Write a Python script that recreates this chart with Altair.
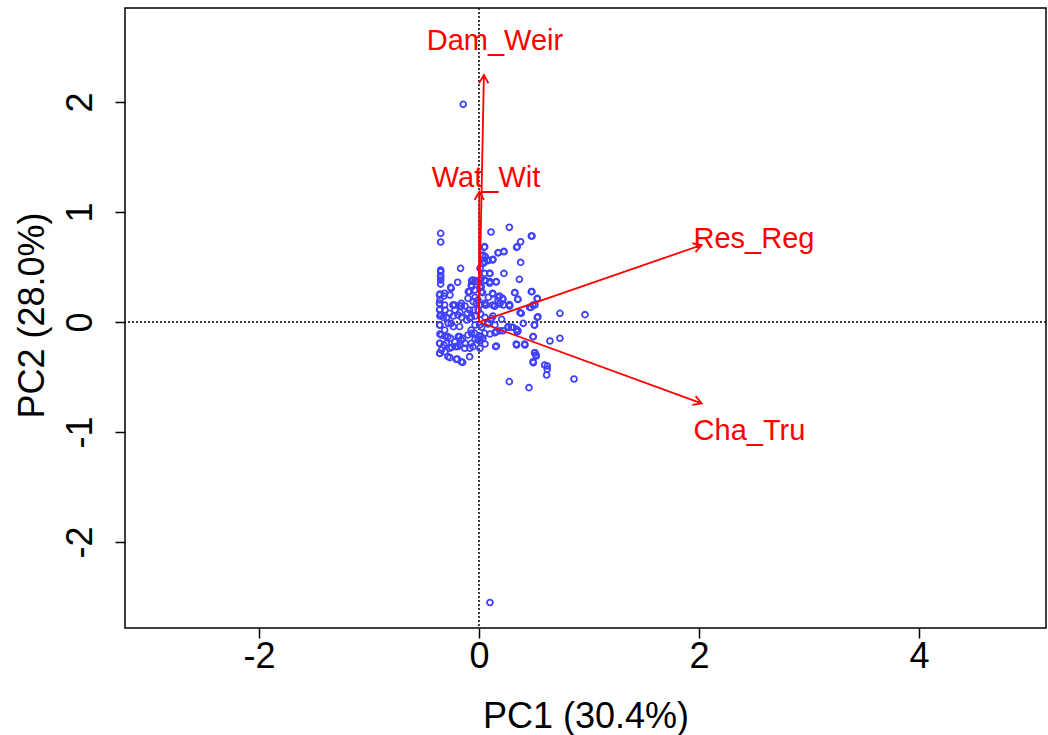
import math
import altair as alt
import pandas as pd

# ---- scores (PC1, PC2) ----
pc1 = [
    -0.348, -0.348, 0.276, 0.109, 0.482, 0.379, 0.342, 0.048, 0.227, 0.176, 0.033, 0.124, 0.085, 0.039, 0.379,
    -0.348, -0.348, -0.348, -0.348, -0.167, 0.009, 0.100, 0.227, 0.367, -0.194, -0.067, -0.036, 0.009, 0.055,
    0.100, 0.155, -0.067, 0.009, -0.258, -0.097, 0.033, 0.124, 0.327, 0.482, -0.355, -0.318, -0.264, -0.036,
    0.085, 0.176, 0.215, 0.352, 0.530, -0.355, -0.233, -0.173, -0.127, -0.052, 0.055, 0.124, 0.191, 0.221,
    0.276, 0.473, 0.509, -0.355, -0.309, -0.218, -0.173, -0.052, -0.006, 0.015, 0.373, 0.736, 0.964, -0.355,
    -0.324, -0.294, -0.233, -0.158, -0.082, -0.036, 0.055, 0.115, 0.206, 0.530, -0.355, -0.279, -0.233,
    -0.112, -0.036, 0.024, 0.085, 0.145, 0.267, 0.306, 0.342, 0.403, 0.503, -0.355, -0.309, -0.258, -0.188,
    -0.148, -0.067, 0.003, 0.100, 0.145, 0.191, 0.348, 0.494, 0.736, 0.645, -0.355, -0.318, -0.248, -0.209,
    -0.173, -0.127, -0.036, 0.009, 0.055, 0.152, 0.342, 0.418, -0.355, -0.309, -0.264, -0.197, -0.148,
    -0.082, 0.009, 0.509, 0.518, 0.494, 0.621, 0.621, 0.615, 0.864, 0.276, 0.455,
    -0.143, 0.100,
    -0.358, -0.358, -0.236, -0.161, -0.085, -0.024, -0.342, -0.267, -0.191, -0.106, -0.070, -0.358, -0.312,
    -0.252, -0.176, -0.070, 0.006, -0.342, -0.282, -0.176, -0.100, -0.039, 0.036, -0.358, -0.297, -0.221,
    -0.161, -0.070, -0.009, -0.342, -0.267, -0.191, -0.130, -0.055, -0.358, -0.282, -0.206, -0.161, -0.085,
    -0.348, -0.348, -0.055, -0.070, -0.024, 0.021, 0.052, 0.036, 0.058, -0.252, -0.312, -0.358, -0.085,
    -0.039, 0.021, -0.100, -0.009, -0.358, -0.312, -0.221, -0.161, 0.006,
    0.476, 0.348, 0.052, 0.036, 0.052, 0.082, 0.127, 0.173, 0.227, 0.097, 0.052, 0.097, 0.158, 0.021, 0.324,
    0.476, 0.127, 0.188, 0.218, 0.173, 0.355, 0.530, 0.491, 0.461, 0.052, 0.067, 0.142, 0.279,
    0.142, 0.188, 0.279, 0.385, 0.536, 0.127, 0.082, 0.264, 0.294, 0.355, 0.506, 0.158, 0.218, 0.052, 0.021,
    0.491, 0.158, 0.339, 0.415, 0.506, 0.521, 0.491, 0.597,
]
pc2 = [
    0.806, 0.727, 0.861, 0.818, 0.782, 0.730, 0.679, 0.679, 0.642, 0.630, 0.603, 0.564, 0.558, 0.533, 0.542,
    0.458, 0.421, 0.382, 0.345, 0.488, 0.488, 0.442, 0.442, 0.388, 0.361, 0.376, 0.376, 0.382, 0.376,
    0.367, 0.364, 0.321, 0.315, 0.315, 0.276, 0.267, 0.261, 0.267, 0.276, 0.255, 0.236, 0.245, 0.224,
    0.224, 0.224, 0.215, 0.206, 0.215, 0.200, 0.155, 0.145, 0.145, 0.185, 0.155, 0.155, 0.170, 0.155,
    0.158, 0.133, 0.155, 0.115, 0.109, 0.109, 0.088, 0.109, 0.109, 0.073, 0.085, 0.079, 0.067, 0.055,
    0.042, 0.042, 0.055, 0.042, 0.033, 0.055, 0.042, 0.033, 0.024, 0.042, -0.027, -0.012, -0.042,
    0.018, -0.027, -0.048, -0.006, -0.027, -0.048, -0.048, -0.067, -0.012, -0.027, -0.109, -0.127, -0.148, -0.133,
    -0.148, -0.103, -0.127, -0.109, -0.097, -0.079, -0.088, -0.133, -0.148, -0.173, -0.194, -0.209, -0.230, -0.224,
    -0.209, -0.194, -0.158, -0.170, -0.200, -0.224, -0.209, -0.209, -0.285, -0.270, -0.324, -0.336, -0.367,
    -0.239, -0.239, -0.279, -0.300, -0.370, -0.400, -0.430, -0.482, -0.518, -0.542, -0.597,
    1.979, -2.550,
    0.170, 0.109, 0.155, 0.170, 0.109, 0.170, 0.064, 0.079, 0.064, 0.079, 0.048, -0.027, -0.073,
    -0.012, -0.042, -0.073, -0.027, -0.118, -0.133, -0.133, -0.118, -0.103, -0.148, -0.194, -0.194, -0.179,
    -0.164, -0.194, -0.164, -0.255, -0.239, -0.224, -0.239, -0.224, -0.285, -0.315, -0.339, -0.361, -0.315,
    0.473, 0.406, 0.382, 0.336, 0.367, 0.397, 0.442, 0.533, 0.594, 0.306, 0.261, 0.245, 0.276,
    0.291, 0.276, 0.215, 0.200, 0.170, 0.155, 0.155, 0.145, 0.155,
    0.782, 0.685, 0.685, 0.609, 0.548, 0.564, 0.570, 0.630, 0.639, 0.442, 0.382, 0.352, 0.367, 0.321, 0.267,
    0.276, 0.255, 0.236, 0.206, 0.191, 0.206, 0.209, 0.155, 0.133, 0.170, 0.155, 0.145, 0.145,
    0.145, 0.164, 0.155, 0.079, 0.048, 0.055, -0.018, -0.042, -0.048, -0.079, -0.027, -0.088, -0.079, -0.103, -0.133,
    -0.133, -0.218, -0.200, -0.200, -0.279, -0.309, -0.361, -0.391,
]

# ---- variable loadings (arrow tips) and label positions ----
var_names = ["Dam_Weir", "Wat_Wit", "Res_Reg", "Cha_Tru"]
load_pc1 = [0.045, 0.003, 2.024, 2.024]
load_pc2 = [2.245, 1.185, 0.700, -0.739]
label_pc1 = [0.145, 0.064, 2.50, 2.459]
label_pc2 = [2.555, 1.309, 0.755, -0.991]

x_ticks = [-2, 0, 2, 4]
y_ticks = [-2, -1, 0, 1, 2]
x_domain = [-3.218, 5.155]
y_domain = [-2.782, 2.855]

FONT = "Liberation Sans"
RED = "#ff0000"
BLUE = "#4040ff"

scores = pd.DataFrame({"PC1": pc1, "PC2": pc2})
loads = pd.DataFrame({
    "name": var_names, "x": load_pc1, "y": load_pc2,
    "lx": label_pc1, "ly": label_pc2,
})
loads["x0"] = 0.0
loads["y0"] = 0.0
loads["ang"] = [(90 - math.degrees(math.atan2(b, a))) % 360 for a, b in zip(load_pc1, load_pc2)]

xs = alt.Scale(domain=x_domain, nice=False, zero=False)
ys = alt.Scale(domain=y_domain, nice=False, zero=False)

xaxis = alt.Axis(values=x_ticks, title="PC1 (30.4%)", grid=False, domain=False,
                 labelExpr="'' + datum.value",
                 tickSize=10, tickWidth=1.5, tickColor="black",
                 labelFont=FONT, labelFontSize=36, labelColor="black", labelPadding=1,
                 labelFlush=False, labelOverlap=False,
                 titleFont=FONT, titleFontSize=36, titleFontWeight="normal", titleColor="black",
                 titleBaseline="alphabetic", titleY=99)
yaxis = alt.Axis(values=y_ticks, title="PC2 (28.0%)", grid=False, domain=False,
                 labelExpr="'' + datum.value",
                 tickSize=10, tickWidth=1.5, tickColor="black",
                 labelFont=FONT, labelFontSize=36, labelColor="black",
                 labelAngle=270, labelAlign="center", labelBaseline="alphabetic", labelPadding=24,
                 labelFlush=False, labelOverlap=False,
                 titleFont=FONT, titleFontSize=36, titleFontWeight="normal", titleColor="black",
                 titleBaseline="alphabetic", titleX=-82, titleY=307, titleAngle=270)

points = alt.Chart(scores).mark_point(
    shape="circle", filled=False, color=BLUE, size=34, strokeWidth=1.8, opacity=1
).encode(
    x=alt.X("PC1:Q", scale=xs, axis=xaxis),
    y=alt.Y("PC2:Q", scale=ys, axis=yaxis),
)

zero = pd.DataFrame({"v": [0.0]})
hline = alt.Chart(zero).mark_rule(color="black", strokeDash=[2, 2], strokeWidth=1.5).encode(
    y=alt.Y("v:Q", scale=ys))
vline = alt.Chart(zero).mark_rule(color="black", strokeDash=[2, 2], strokeWidth=1.5).encode(
    x=alt.X("v:Q", scale=xs))

arrows = alt.Chart(loads).mark_rule(color=RED, strokeWidth=1.8).encode(
    x=alt.X("x0:Q", scale=xs), y=alt.Y("y0:Q", scale=ys), x2="x:Q", y2="y:Q")

heads = alt.Chart(loads).mark_point(
    shape="M -0.5 0.866 L 0 0 L 0.5 0.866", filled=False, color=RED,
    size=350, strokeWidth=1.8, opacity=1
).encode(
    x=alt.X("x:Q", scale=xs), y=alt.Y("y:Q", scale=ys), angle=alt.Angle("ang:Q", scale=None))

labels = alt.Chart(loads).mark_text(
    color=RED, font=FONT, fontSize=29, align="center", baseline="middle"
).encode(x=alt.X("lx:Q", scale=xs), y=alt.Y("ly:Q", scale=ys), text="name:N")

chart = alt.layer(hline, vline, points, arrows, heads, labels).properties(
    width=921, height=620,
    padding={"left": 125, "top": 8, "right": 2, "bottom": 107},
    autosize=alt.AutoSizeParams(type="none"),
    background="white",
).configure_view(
    stroke="black", strokeWidth=1.5, fill="white"
)

chart.save("out.html", embed_options={"renderer": "svg", "actions": False})
